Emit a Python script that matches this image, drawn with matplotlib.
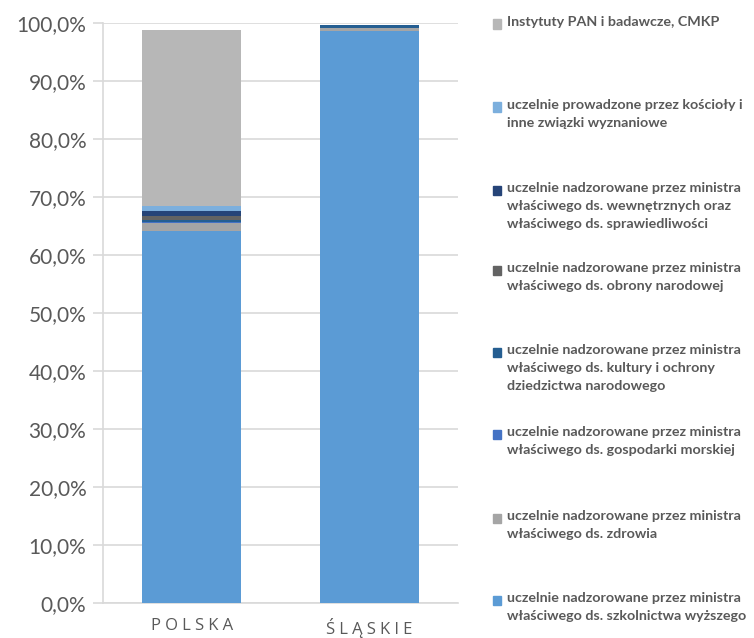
import matplotlib.pyplot as plt
from matplotlib.patches import Rectangle
import numpy as np

# ==========================================
# DATA (%)
# ==========================================
regions = ["POLSKA", "ŚLĄSKIE"]

szkolnictwo = [64.2, 98.7]
zdrowie = [1.4, 0.45]
gospodarka_morska = [0.15, 0.0]
kultura = [0.35, 0.45]
obrona = [0.7, 0.0]
wewnetrzne = [0.8, 0.0]
koscioly = [0.9, 0.0]
pan_cmkp = [30.3, 0.0]

series_labels = [
    "uczelnie nadzorowane przez ministra\nwłaściwego ds. szkolnictwa wyższego",
    "uczelnie nadzorowane przez ministra\nwłaściwego ds. zdrowia",
    "uczelnie nadzorowane przez ministra\nwłaściwego ds. gospodarki morskiej",
    "uczelnie nadzorowane przez ministra\nwłaściwego ds. kultury i ochrony\ndziedzictwa narodowego",
    "uczelnie nadzorowane przez ministra\nwłaściwego ds. obrony narodowej",
    "uczelnie nadzorowane przez ministra\nwłaściwego ds. wewnętrznych oraz\nwłaściwego ds. sprawiedliwości",
    "uczelnie prowadzone przez kościoły i\ninne związki wyznaniowe",
    "Instytuty PAN i badawcze, CMKP",
]
series_values = [szkolnictwo, zdrowie, gospodarka_morska, kultura,
                 obrona, wewnetrzne, koscioly, pan_cmkp]
series_colors = ["#5B9BD5", "#A5A5A5", "#4472C4", "#255E91",
                 "#636363", "#264478", "#7CAFDD", "#B7B7B7"]

# ==========================================
# FIGURE
# ==========================================
plt.rcParams['font.family'] = ['Lato', 'DejaVu Sans']
text_color = "#595959"
grid_color = "#D9D9D9"

fig = plt.figure(figsize=(7.54, 6.38), dpi=100)
ax = fig.add_axes([103 / 754, 1 - 603 / 638, 355 / 754, 580 / 638])

x = np.arange(len(regions))
bottom = np.zeros(len(regions))
for vals, color in zip(series_values, series_colors):
    vals = np.array(vals)
    ax.bar(x, vals, width=0.56, bottom=bottom, color=color, zorder=3)
    bottom += vals

ax.set_xlim(-0.5, 1.5)
ax.set_ylim(0, 100)
ax.set_yticks(np.arange(0, 101, 10))
ax.set_yticklabels([f"{v:.1f}%".replace(".", ",") for v in np.arange(0, 101, 10)],
                   fontsize=15, color=text_color)
ax.yaxis.grid(True, color=grid_color, linewidth=1.2, zorder=0)
ax.tick_params(axis='y', length=7, width=1.2, color=grid_color, pad=5)

# letter-spaced category labels
spaced = ["\u2005".join(list(r)) for r in regions]
ax.set_xticks(x)
ax.set_xticklabels(spaced, fontsize=12, color=text_color,
                   family=['Open Sans', 'DejaVu Sans'])
ax.tick_params(axis='x', length=0, pad=11)

for side in ["top", "right"]:
    ax.spines[side].set_visible(False)
ax.spines["left"].set_color(grid_color)
ax.spines["left"].set_linewidth(1.2)
ax.spines["bottom"].set_color(grid_color)
ax.spines["bottom"].set_linewidth(1.2)

# ==========================================
# LEGEND (right side, drawn by hand, first line aligned with marker)
# ==========================================
legend_y = [24, 107, 190, 270, 352, 434, 518, 600]   # pixel rows, top to bottom
order = list(range(len(series_labels)))[::-1]
for ypix, idx in zip(legend_y, order):
    yf = 1 - ypix / 638
    fig.patches.append(Rectangle((493 / 754, yf - 4.5 / 638), 8 / 754, 9 / 638,
                                 transform=fig.transFigure, color=series_colors[idx]))
    fig.text(507 / 754, yf + 8 / 638, series_labels[idx], fontsize=10.3,
             fontweight='bold', color=text_color, va='top', ha='left',
             linespacing=1.6)

fig.savefig("out.png", dpi=100)
